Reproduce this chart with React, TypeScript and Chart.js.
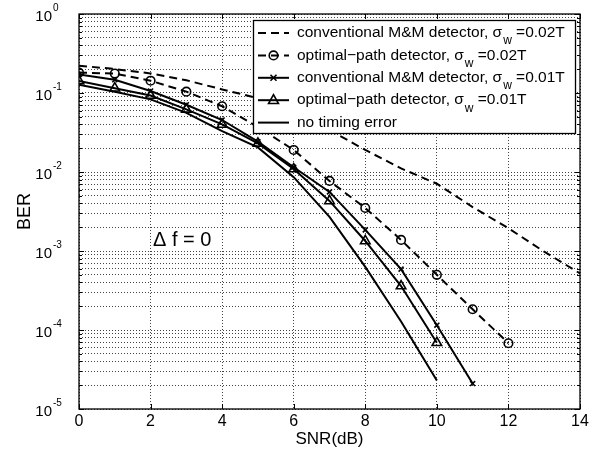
import React, { useEffect, useRef } from 'react';
import { Chart, registerables } from 'chart.js';

Chart.register(...registerables);

const snr = [0, 1, 2, 3, 4, 5, 6, 7, 8, 9, 10, 11, 12, 13, 14];
const convMM002 = [0.222, 0.201, 0.177, 0.145, 0.111, 0.086, 0.056, 0.034, 0.019, 0.0111, 0.0071, 0.0036, 0.00194, 0.00098, 0.00052];
const optPath002 = [0.181, 0.176, 0.143, 0.104, 0.068, 0.037, 0.019, 0.0077, 0.0035, 0.00138, 0.0005, 0.000183, 0.000068];
const convMM001 = [0.172, 0.147, 0.106, 0.071, 0.0455, 0.0242, 0.0115, 0.0056, 0.00185, 0.00059, 0.000115, 0.000021];
const optPath001 = [0.142, 0.115, 0.093, 0.062, 0.040, 0.023, 0.0109, 0.0043, 0.00134, 0.00036, 0.000069];
const noTiming = [0.127, 0.104, 0.083, 0.056, 0.033, 0.0205, 0.0086, 0.0027, 0.00063, 0.000128, 0.000023];

const xTickValues = [0, 2, 4, 6, 8, 10, 12, 14];
const yDecadeExponents = [0, -1, -2, -3, -4, -5];
const yMinorMultipliers = [2, 3, 4, 5, 6, 7, 8, 9];

const legendEntries = [
  { pre: 'conventional M&M detector, σ', sub: 'w', post: ' =0.02T', dash: [8, 5], marker: 'none' },
  { pre: 'optimal\u2212path detector, σ', sub: 'w', post: ' =0.02T', dash: [8, 5], marker: 'circle' },
  { pre: 'conventional M&M detector, σ', sub: 'w', post: ' =0.01T', dash: [], marker: 'crossRot' },
  { pre: 'optimal\u2212path detector, σ', sub: 'w', post: ' =0.01T', dash: [], marker: 'triangle' },
  { pre: 'no timing error', sub: '', post: '', dash: [], marker: 'none' },
];

const annotationText = 'Δ f = 0';
const FONT = 'Arial, "Liberation Sans", Helvetica, sans-serif';

function pts(values: number[]) {
  return values.map((v, i) => ({ x: snr[i], y: v }));
}

function drawMarker(ctx: CanvasRenderingContext2D, kind: string, x: number, y: number) {
  ctx.save();
  ctx.setLineDash([]);
  ctx.lineWidth = 1.6;
  ctx.strokeStyle = '#000';
  if (kind === 'circle') {
    ctx.beginPath();
    ctx.arc(x, y, 4.3, 0, Math.PI * 2);
    ctx.stroke();
  } else if (kind === 'crossRot') {
    const r = 3;
    ctx.beginPath();
    ctx.moveTo(x - r, y - r); ctx.lineTo(x + r, y + r);
    ctx.moveTo(x + r, y - r); ctx.lineTo(x - r, y + r);
    ctx.stroke();
  } else if (kind === 'triangle') {
    const r = 5.5;
    ctx.beginPath();
    ctx.moveTo(x, y - r);
    ctx.lineTo(x + r * 0.9, y + r * 0.6);
    ctx.lineTo(x - r * 0.9, y + r * 0.6);
    ctx.closePath();
    ctx.stroke();
  }
  ctx.restore();
}

const decorPlugin = {
  id: 'decor',
  afterDatasetsDraw(chart: any) {
    const ctx: CanvasRenderingContext2D = chart.ctx;
    const { left, right, top, bottom } = chart.chartArea;
    const xs = chart.scales.x;
    const ys = chart.scales.y;
    ctx.save();
    // frame
    ctx.setLineDash([]);
    ctx.strokeStyle = '#000';
    ctx.lineWidth = 1.3;
    ctx.strokeRect(left, top, right - left, bottom - top);
    // x ticks (inward, bottom and top)
    ctx.lineWidth = 1;
    ctx.beginPath();
    xTickValues.forEach((v) => {
      const px = Math.round(xs.getPixelForValue(v)) + 0.5;
      ctx.moveTo(px, bottom); ctx.lineTo(px, bottom - 5);
      ctx.moveTo(px, top); ctx.lineTo(px, top + 5);
    });
    // y ticks
    yDecadeExponents.forEach((e) => {
      const py = Math.round(ys.getPixelForValue(Math.pow(10, e))) + 0.5;
      ctx.moveTo(left, py); ctx.lineTo(left + 5, py);
      ctx.moveTo(right, py); ctx.lineTo(right - 5, py);
      if (e > -5) {
        yMinorMultipliers.forEach((m) => {
          const pm = Math.round(ys.getPixelForValue(m * Math.pow(10, e - 1))) + 0.5;
          ctx.moveTo(left, pm); ctx.lineTo(left + 3, pm);
          ctx.moveTo(right, pm); ctx.lineTo(right - 3, pm);
        });
      }
    });
    ctx.stroke();

    // y tick labels 10^e
    ctx.fillStyle = '#000';
    yDecadeExponents.forEach((e) => {
      const py = ys.getPixelForValue(Math.pow(10, e));
      ctx.font = `15px ${FONT}`;
      ctx.textAlign = 'right';
      ctx.textBaseline = 'middle';
      ctx.fillText('10', left - 27, py + 3);
      ctx.font = `10px ${FONT}`;
      ctx.textAlign = 'left';
      ctx.fillText(e === 0 ? '0' : String(e), left - 26, py - 6);
    });

    // annotation
    ctx.font = `20px ${FONT}`;
    ctx.textAlign = 'left';
    ctx.textBaseline = 'middle';
    ctx.fillText(annotationText, xs.getPixelForValue(2.07), ys.getPixelForValue(Math.pow(10, -2.87)));

    // legend box
    const bx = 253, by = 20, bw = 322, bh = 113;
    ctx.fillStyle = '#fff';
    ctx.fillRect(bx, by, bw, bh);
    ctx.strokeStyle = '#000';
    ctx.lineWidth = 1.3;
    ctx.strokeRect(bx + 0.5, by + 0.5, bw, bh);
    legendEntries.forEach((ent, i) => {
      const ry = by + 13 + i * 22.4;
      ctx.save();
      ctx.strokeStyle = '#000';
      ctx.lineWidth = 2;
      ctx.setLineDash(ent.dash);
      ctx.beginPath();
      ctx.moveTo(bx + 5, ry);
      ctx.lineTo(bx + 36, ry);
      ctx.stroke();
      ctx.restore();
      drawMarker(ctx, ent.marker, bx + 20.5, ry);
      ctx.fillStyle = '#000';
      ctx.textAlign = 'left';
      ctx.textBaseline = 'middle';
      ctx.font = `15.5px ${FONT}`;
      let tx = bx + 44;
      ctx.fillText(ent.pre, tx, ry);
      tx += ctx.measureText(ent.pre).width;
      if (ent.sub) {
        ctx.font = `12px ${FONT}`;
        ctx.fillText(ent.sub, tx + 1, ry + 8);
        tx += ctx.measureText(ent.sub).width + 1;
        ctx.font = `15.5px ${FONT}`;
        ctx.fillText(ent.post, tx, ry);
      }
    });
    ctx.restore();
  },
};

export default function App() {
  const ref = useRef<HTMLCanvasElement | null>(null);
  useEffect(() => {
    if (!ref.current) return;
    const lineBase = { borderColor: '#000', borderWidth: 2, tension: 0, fill: false, pointBorderColor: '#000', pointBackgroundColor: 'rgba(0,0,0,0)', pointBorderWidth: 1.6 };
    const chart = new Chart(ref.current, {
      type: 'line',
      data: {
        datasets: [
          { ...lineBase, label: 'conventional M&M detector, σw =0.02T', data: pts(convMM002), borderDash: [8, 5], pointRadius: 0 },
          { ...lineBase, label: 'optimal-path detector, σw =0.02T', data: pts(optPath002), borderDash: [8, 5], pointStyle: 'circle', pointRadius: 4.3 },
          { ...lineBase, label: 'conventional M&M detector, σw =0.01T', data: pts(convMM001), pointStyle: 'crossRot', pointRadius: 3.5 },
          { ...lineBase, label: 'optimal-path detector, σw =0.01T', data: pts(optPath001), pointStyle: 'triangle', pointRadius: 5.5 },
          { ...lineBase, label: 'no timing error', data: pts(noTiming), pointRadius: 0 },
        ] as any,
      },
      options: {
        responsive: false,
        animation: false,
        devicePixelRatio: 1,
        layout: { padding: { left: 0, top: 14, right: 27, bottom: 0 } },
        plugins: { legend: { display: false }, tooltip: { enabled: false } },
        scales: {
          x: {
            type: 'linear',
            min: 0,
            max: 14,
            ticks: { stepSize: 2, color: '#000', font: { family: FONT, size: 16 }, padding: 3, maxRotation: 0 },
            grid: { color: '#444', lineWidth: 1, drawTicks: false },
            border: { display: false, dash: [1, 2] },
            title: { display: true, text: 'SNR(dB)', color: '#000', font: { family: FONT, size: 17 }, padding: { top: 0, bottom: 10 } },
            afterFit: (s: any) => { s.height = 51; },
          },
          y: {
            type: 'logarithmic',
            min: 1e-5,
            max: 1,
            afterBuildTicks: (s: any) => {
              const t: any[] = [];
              yDecadeExponents.slice().reverse().forEach((e) => {
                t.push({ value: Math.pow(10, e) });
                if (e < 0) yMinorMultipliers.forEach((m) => t.push({ value: m * Math.pow(10, e) }));
              });
              s.ticks = t;
            },
            ticks: { display: false },
            grid: { color: '#444', lineWidth: 1, drawTicks: false },
            border: { display: false, dash: [1, 2] },
            title: { display: true, text: 'BER', color: '#000', font: { family: FONT, size: 18 }, padding: { top: 14, bottom: 0 } },
            afterFit: (s: any) => { s.width = 79; },
          },
        },
      } as any,
      plugins: [decorPlugin],
    });
    return () => chart.destroy();
  }, []);
  return (
    <div style={{ position: 'fixed', left: 0, top: 0, width: 607, height: 460, background: '#fff' }}>
      <canvas ref={ref} width={607} height={460} style={{ display: 'block' }} />
    </div>
  );
}
